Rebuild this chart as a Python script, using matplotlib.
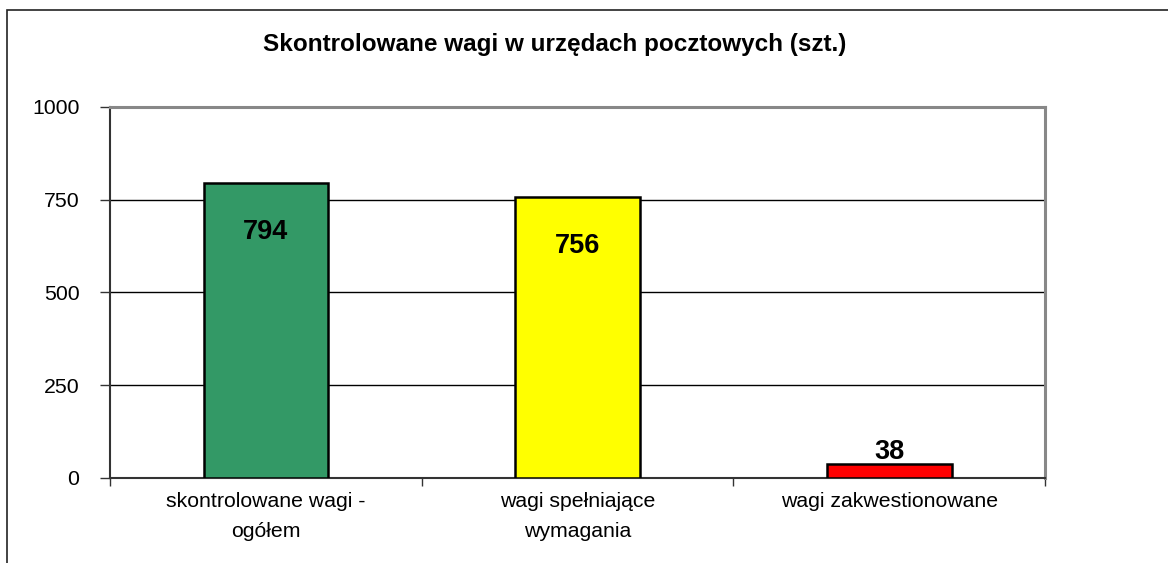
import matplotlib
matplotlib.use("Agg")
import matplotlib.pyplot as plt
import matplotlib.patches as mpatches

plt.rcParams['font.family'] = ['Liberation Sans', 'DejaVu Sans']

# data
categories = ['skontrolowane wagi -\nogółem', 'wagi spełniające\nwymagania', 'wagi zakwestionowane']
values = [794, 756, 38]
colors = ['#339966', '#FFFF00', '#FF0000']
yticks = [0, 250, 500, 750, 1000]
title = 'Skontrolowane wagi w urzędach pocztowych (szt.)'

fig = plt.figure(figsize=(11.68, 5.63), dpi=100)
ax = fig.add_axes([0.0942, 0.151, 0.8005, 0.659])

x = list(range(len(values)))
bars = ax.bar(x, values, width=0.4, color=colors, edgecolor='black', linewidth=1.8, zorder=3)

ax.set_xlim(-0.5, len(values) - 0.5)
ax.set_ylim(0, 1000)
ax.set_yticks(yticks)
ax.set_yticklabels([str(t) for t in yticks], fontsize=15.3)
ax.yaxis.grid(True, color='black', linewidth=1, zorder=0)
ax.set_axisbelow(True)
ax.tick_params(axis='y', direction='out', length=7, width=1, pad=15, color='#333333')

# category labels at centre, tick marks between categories
ax.set_xticks(x)
ax.set_xticklabels(categories, fontsize=15.3, linespacing=1.75, va='top')
ax.tick_params(axis='x', which='major', length=0, pad=10)
ax.set_xticks([i - 0.5 for i in range(len(values) + 1)], minor=True)
ax.tick_params(axis='x', which='minor', direction='out', length=6, width=1, color='#333333')

for s in ['left', 'bottom']:
    ax.spines[s].set_color('#333333')
    ax.spines[s].set_linewidth(1.5)
for s in ['top', 'right']:
    ax.spines[s].set_color('#888888')
    ax.spines[s].set_linewidth(2.2)

# value labels
for b, v in zip(bars, values):
    cx = b.get_x() + b.get_width() / 2
    if v > 200:
        ax.annotate(str(v), (cx, v), xytext=(0, -35), textcoords='offset points',
                    ha='center', va='center', fontsize=19.5, fontweight='bold', zorder=4)
    else:
        ax.annotate(str(v), (cx, v), xytext=(0, -1), textcoords='offset points',
                    ha='center', va='bottom', fontsize=19.5, fontweight='bold', zorder=4)

fig.text(555 / 1168, 1 - 45 / 563, title, ha='center', va='center',
         fontsize=17.5, fontweight='bold')

# outer chart border
border = mpatches.Rectangle((7 / 1168, -0.5), 2, 1.5 - 10 / 563,
                            transform=fig.transFigure, fill=False,
                            edgecolor='#222222', linewidth=1.2)
fig.patches.append(border)

fig.savefig('out.png', dpi=100)
